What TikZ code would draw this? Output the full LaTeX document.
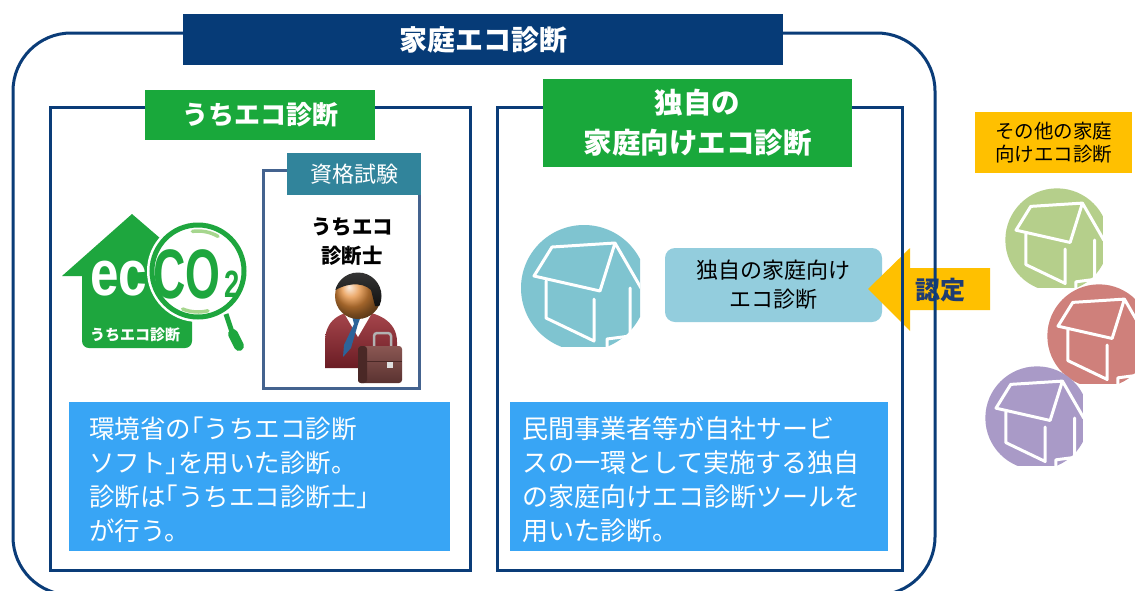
\documentclass[tikz,border=0pt]{standalone}
\usepackage{fontspec}
\setmainfont{Noto Sans CJK JP}
\newfontfamily\logofont{Liberation Sans}
% half-width corner brackets inside running text
\newcommand\hb[1]{{\addfontfeature{RawFeature=+halt}#1}}

\definecolor{navy}{HTML}{0A3C78}
\definecolor{titlenavy}{HTML}{063B77}
\definecolor{labelgreen}{HTML}{19A83B}
\definecolor{textblue}{HTML}{38A5F5}
\definecolor{tagteal}{HTML}{31849B}
\definecolor{certframe}{HTML}{44638F}
\definecolor{paleteal}{HTML}{93CDDD}
\definecolor{circteal}{HTML}{7FC4D0}
\definecolor{circgreen}{HTML}{B5CF8B}
\definecolor{circred}{HTML}{CF807B}
\definecolor{circpurple}{HTML}{A99AC7}
\definecolor{amber}{HTML}{FFC000}
\definecolor{logogreen}{HTML}{1EA63E}
\definecolor{lightlogo}{HTML}{A6D68E}
\definecolor{textnavy}{HTML}{1F3C73}
\definecolor{suithi}{HTML}{A8474D}
\definecolor{suitlo}{HTML}{6A1C24}
\definecolor{tieblue}{HTML}{2C6399}
\definecolor{facecol}{HTML}{E58E3C}
\definecolor{hairtop}{HTML}{3A3A3A}
\definecolor{hairlow}{HTML}{111111}
\definecolor{casehi}{HTML}{8A5753}
\definecolor{caselo}{HTML}{5A3230}
\definecolor{caseside}{HTML}{4A2826}

\tikzset{
  frameline/.style={draw=navy, line width=3, inner sep=0},
  bannerbox/.style={fill=titlenavy, text=white, inner sep=0,
    font=\fontsize{28}{32}\selectfont\bfseries},
  greentag/.style={fill=labelgreen, text=white, inner sep=0, align=center},
  infobox/.style={fill=textblue, inner sep=0},
  infotext/.style={text=white, align=left, anchor=west, inner sep=0},
  homeicon/.pic={
    \begin{scope}
      \clip (-66,-66) rectangle (56,58);
      \fill[pic actions] (0,0) circle (63);
      \draw[white, line width=3, line join=round, line cap=round]
        (-32,-41) -- (31,-45) -- (16,3) -- (-50,-12) -- cycle
        (31,-45) -- (57,0) -- (70,0)
        (46,0) -- (46,48) -- (23,51) -- (23,70)
        (-38,-7) -- (-38,30) -- (10,53) -- (10,11);
    \end{scope}
  }
}

\begin{document}
\begin{tikzpicture}[x=1pt, y=-1pt]
\useasboundingbox (0,0) rectangle (1135,590);
\clip (0,0) rectangle (1135,590);
\fill[white] (0,0) rectangle (1135,590);

% house icons in round badges
\pic (hgreen) [fill=circgreen, scale=0.82] at (1057,240) {homeicon};
\pic (hred) [fill=circred, scale=0.82] at (1099,336) {homeicon};
\pic (hpurple) [fill=circpurple, scale=0.82] at (1037,418) {homeicon};
\pic (hteal) [fill=circteal] at (584,288) {homeicon};

% own diagnosis box
\node[fill=paleteal, rounded corners=10, minimum width=217, minimum height=74,
      inner sep=0, align=center, font=\fontsize{22}{29}\selectfont]
      (owndiag) at (773.5,285) {独自の家庭向け\\エコ診断};

% certification arrow
\fill[amber] (868,289) -- (910,248) -- (910,268) -- (990,268) -- (990,310)
  -- (910,310) -- (910,331) -- cycle;
\node[text=textnavy, font=\fontsize{25}{25}\selectfont\bfseries, inner sep=0]
  (nintei) at (940,290) {認定};

% frames
\node[frameline, rounded corners=58, minimum width=922, minimum height=562]
  (outer) at (474,314) {};
\node[frameline, minimum width=420, minimum height=463] (leftbox) at (260,338.5) {};
\node[frameline, minimum width=405, minimum height=463] (rightbox) at (699.5,338.5) {};

% headings
\node[bannerbox, minimum width=600, minimum height=51] (title) at (483,39.5) {家庭エコ診断};
\node[greentag, minimum width=230, minimum height=50,
      font=\fontsize{26}{30}\selectfont\bfseries] (uchieco) at (260,115) {うちエコ診断};
\node[greentag, minimum width=309, minimum height=88,
      font=\fontsize{28.5}{40}\selectfont\bfseries] (dokuji) at (697.5,123) {独自の\\家庭向けエコ診断};

% qualification panel
\node[draw=certframe, line width=3, minimum width=156, minimum height=218, inner sep=0]
  (certbox) at (341,279) {};
\node[fill=tagteal, text=white, minimum width=134, minimum height=42, inner sep=0,
      font=\fontsize{22}{22}\selectfont] (certtag) at (354,174) {資格試験};
\node[align=center, inner sep=0, font=\fontsize{20.5}{29}\selectfont\bfseries]
  (certname) at (352,242) {うちエコ\\診断士};

% consultant figure
\shade[top color=suithi, bottom color=suitlo]
  (325,368) -- (325,342) .. controls (325,320) and (340,312) .. (358,311)
  .. controls (376,312) and (397,320) .. (397,342) -- (397,368) -- cycle;
\fill[white] (344,313) -- (372,313) -- (358,337) -- cycle;
\fill[tieblue] (352,316) -- (361,316) -- (358,324) -- (351,348) -- (343,357)
  -- (344,345) -- (354,324) -- cycle;
\shade[ball color=facecol] (358,296) circle (23);
\begin{scope}
  \clip (358,296) circle (23.5);
  \shade[top color=hairtop, bottom color=hairlow]
    (330,294) .. controls (343,283) and (362,281) .. (371,290) -- (375,306)
    -- (385,306) -- (385,268) -- (330,268) -- cycle;
\end{scope}
\draw[gray!60, line width=2.5, rounded corners=3]
  (374,348) -- (374,333) -- (391,333) -- (391,348);
\shade[top color=casehi, bottom color=caselo, rounded corners=3]
  (358,346) rectangle (402,383);
\fill[caseside, rounded corners=3] (358,346) rectangle (367,383);
\draw[caseside, line width=1] (367,361) -- (402,361);
\fill[gray!25] (387,362) rectangle (393,368);

% eco diagnosis logo
\fill[logogreen] (62,276) -- (132,214) -- (204,276) -- cycle;
\fill[logogreen, rounded corners=7] (82,270) rectangle (192,348);
\node[anchor=base west, inner sep=0, text=white,
      font=\logofont\bfseries\fontsize{64}{64}\selectfont]
  (ecword) at (90,295) {\scalebox{0.8}[1]{ec}};
\node[inner sep=0, text=white, font=\fontsize{15}{15}\selectfont\bfseries]
  (logolabel) at (135,335) {うちエコ診断};
\fill[white] (198,271) circle (51);
\draw[logogreen, line width=5] (198,271) circle (46);
\draw[lightlogo, line width=3.5, line cap=round] (198,271) ++(-98:40) arc[start angle=-98, end angle=-60, radius=40];
\draw[lightlogo, line width=3.5, line cap=round] (198,271) ++(76:41) arc[start angle=76, end angle=112, radius=41];
\node[anchor=base west, inner sep=0, text=logogreen,
      font=\logofont\bfseries\fontsize{70}{70}\selectfont]
  (coword) at (153,298) {\scalebox{0.64}[1]{CO}};
\node[anchor=base west, inner sep=0, text=logogreen,
      font=\logofont\bfseries\fontsize{38}{38}\selectfont]
  (subtwo) at (224,297) {\scalebox{0.72}[1]{2}};
\draw[logogreen, line width=5] (226,314) -- (232,332);
\draw[logogreen, line width=10, line cap=round] (233,334) -- (239,346);

% description boxes
\node[infobox, minimum width=381, minimum height=149] (leftinfo) at (259.5,476.5) {};
\node[infotext, font=\fontsize{25.5}{34}\selectfont] (lefttext) at (89,480)
  {環境省の\hb{「}うちエコ診断\\ソフト\hb{」}を用いた診断。\\診断は\hb{「}うちエコ診断士」\\が行う。};
\node[infobox, minimum width=378, minimum height=149] (rightinfo) at (699,476.5) {};
\node[infotext, font=\fontsize{26}{34}\selectfont] (righttext) at (522,480)
  {民間事業者等が自社サービ\\スの一環として実施する独自\\の家庭向けエコ診断ツールを\\用いた診断。};

% other providers label
\node[fill=amber, minimum width=157, minimum height=61, inner sep=0, align=center,
      font=\fontsize{19.5}{23}\selectfont] (others) at (1053.5,142.5) {その他の家庭\\向けエコ診断};
\end{tikzpicture}
\end{document}
